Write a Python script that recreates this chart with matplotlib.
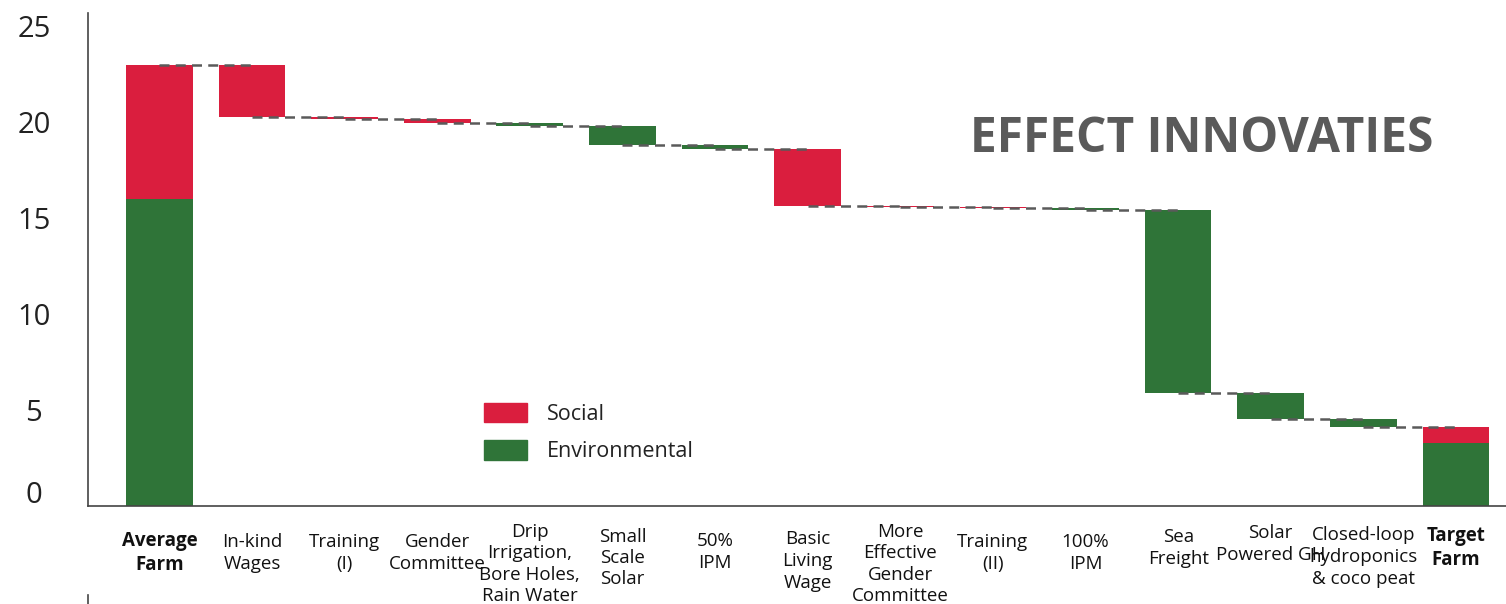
import matplotlib
matplotlib.use('Agg')
import matplotlib.pyplot as plt
import matplotlib.transforms as mtransforms
from matplotlib.patches import Patch
from matplotlib.lines import Line2D

plt.rcParams['font.family'] = ['Open Sans', 'DejaVu Sans']

# data
labels = ["Average\nFarm", "In-kind\nWages", "Training\n(I)", "Gender\nCommittee",
          "Drip\nIrrigation,\nBore Holes,\nRain Water", "Small\nScale\nSolar", "50%\nIPM",
          "Basic\nLiving\nWage", "More\nEffective\nGender\nCommittee", "Training\n(II)",
          "100%\nIPM", "Sea\nFreight", "Solar\nPowered GH",
          "Closed-loop\nhydroponics\n& coco peat", "Target\nFarm"]
start_env = 16.0
start_soc = 7.0
# reduction per innovation, and its type ('S' social, 'E' environmental)
steps = [2.70, 0.10, 0.25, 0.12, 1.00, 0.22, 2.95, 0.06, 0.06, 0.12, 9.55, 1.33, 0.40]
kinds = ['S', 'S', 'S', 'E', 'E', 'E', 'S', 'S', 'S', 'E', 'E', 'E', 'E']

# label centre heights below the axis, in pixels (layout only)
label_y = [47, 47, 47, 47, 58, 52, 46, 55, 58, 47, 47, 42, 38, 51, 42]

RED = '#DA1E3E'
GREEN = '#2F7438'
GREY = '#5A5A5A'

fig = plt.figure(figsize=(15.06, 6.04), dpi=100)
ax = fig.add_axes([88/1506, 98/604, 1 - 88/1506, (506-13)/604])

w = 0.72
# start bar
ax.bar(0, start_env, width=w, color=GREEN)
ax.bar(0, start_soc, bottom=start_env, width=w, color=RED)

level = start_env + start_soc
ends = [level]
env = start_env
soc = start_soc
for i, (s, k) in enumerate(zip(steps, kinds)):
    ax.bar(i + 1, s, bottom=level - s, width=w, color=RED if k == 'S' else GREEN)
    level -= s
    ends.append(level)
    if k == 'S':
        soc -= s
    else:
        env -= s

n = len(labels)
ax.bar(n - 1, env, width=w, color=GREEN)
ax.bar(n - 1, soc, bottom=env, width=w, color=RED)

# connectors
for i in range(n - 1):
    ax.plot([i, i + 1], [ends[i], ends[i]], color=GREY, lw=1.8,
            dashes=(4, 2.5), zorder=5)

ax.set_xlim(-0.77, 14.54)
ax.set_ylim(0, 25.7)
ax.set_yticks([0, 5, 10, 15, 20, 25])
ax.tick_params(axis='y', length=0, pad=39, labelsize=21, labelcolor='#222222')
ax.set_xticks([])
for lab in ax.get_yticklabels():
    lab.set_horizontalalignment('center')
# the zero label sits a little higher in the original
zl = ax.get_yticklabels()[0]
zl.set_transform(zl.get_transform() + mtransforms.ScaledTranslation(0, 14/100, fig.dpi_scale_trans))
for sp in ['top', 'right']:
    ax.spines[sp].set_visible(False)
for sp in ['left', 'bottom']:
    ax.spines[sp].set_color('#444444')
    ax.spines[sp].set_linewidth(1.2)

trans = mtransforms.blended_transform_factory(ax.transData, ax.transAxes)
for i, lab in enumerate(labels):
    bold = i in (0, n - 1)
    ax.text(i, -label_y[i] / 493, lab, transform=trans, ha='center', va='center',
            fontsize=13.5, fontweight='bold' if bold else 'normal',
            color='#111111', linespacing=1.25, clip_on=False)

ax.text(0.9485, 0.7424, "EFFECT INNOVATIES", transform=ax.transAxes, ha='right',
        va='center', fontsize=34.5, fontweight='bold', color=GREY)

handles = [Patch(color=RED, label='Social'), Patch(color=GREEN, label='Environmental')]
ax.legend(handles=handles, loc='upper left', bbox_to_anchor=(0.2714, 0.2312),
          frameon=False, fontsize=15.5, handlelength=2.0, handleheight=1.0,
          handletextpad=0.95, labelspacing=0.72, borderpad=0, labelcolor='#222222')

fig.add_artist(Line2D([88/1506, 88/1506], [0, 9/604], color='#444444', lw=1.2))

fig.savefig('out.png', dpi=100)
